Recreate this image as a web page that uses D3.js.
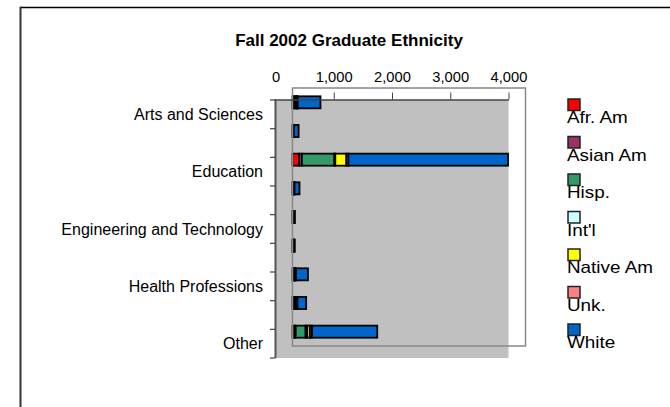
<!DOCTYPE html>
<html>
<head>
<meta charset="utf-8">
<script src="https://cdn.jsdelivr.net/npm/d3@7"></script>
<style>
  html, body { margin: 0; padding: 0; background: #fff; }
  text { font-family: "Liberation Sans", Arial, sans-serif; fill: #000; }
</style>
</head>
<body>
<svg id="chart" width="670" height="407"></svg>
<script>
// ---- data ----
const title = "Fall 2002 Graduate Ethnicity";
const categories = ["Arts and Sciences", "", "Education", "", "Engineering and Technology", "", "Health Professions", "", "Other"];
const seriesNames = ["Afr. Am", "Asian Am", "Hisp.", "Int'l", "Native Am", "Unk.", "White"];
const seriesColors = ["#FF0000", "#993366", "#339966", "#CCFFFF", "#FFFF00", "#FF8080", "#0066CC"];
const afrAm    = [20, 5, 110, 10, 5, 5, 15, 20, 35];
const asianAm  = [15, 5, 50, 5, 5, 3, 10, 10, 20];
const hisp     = [25, 5, 560, 10, 5, 5, 15, 20, 170];
const intl     = [15, 5, 15, 5, 10, 10, 10, 20, 30];
const nativeAm = [5, 2, 190, 2, 0, 0, 3, 5, 45];
const unk      = [10, 3, 35, 3, 2, 2, 7, 10, 35];
const white    = [390, 80, 2740, 85, 15, 15, 205, 150, 1120];
const xTicks   = [0, 1000, 2000, 3000, 4000];

const seriesValues = [afrAm, asianAm, hisp, intl, nativeAm, unk, white];
const rows = categories.map((c, i) => {
  const r = { idx: i };
  seriesNames.forEach((s, k) => r[s] = seriesValues[k][i]);
  return r;
});

// ---- layout ----
const svg = d3.select("#chart");
const plot = { left: 275.5, right: 508.5, top: 100, bottom: 358 };
const frameOffset = { dx: 17, dy: -12 };

const x = d3.scaleLinear().domain([0, 4000]).range([plot.left, plot.right]);
const y = d3.scaleBand().domain(d3.range(categories.length))
  .range([plot.top, plot.bottom]).paddingInner(0.58).paddingOuter(0.29);

// outer chart border
svg.append("line").attr("x1", 20).attr("x2", 680).attr("y1", 7.5).attr("y2", 7.5)
  .attr("stroke", "#000").attr("stroke-width", 1.5);
svg.append("line").attr("x1", 20.5).attr("x2", 20.5).attr("y1", 6.8).attr("y2", 420)
  .attr("stroke", "#333").attr("stroke-width", 2);

// title
svg.append("text").attr("x", 349).attr("y", 46).attr("text-anchor", "middle")
  .style("font-size", "17px").style("font-weight", "bold").text(title);

// plot area
svg.append("rect").attr("x", plot.left).attr("y", plot.top)
  .attr("width", plot.right - plot.left).attr("height", plot.bottom - plot.top)
  .attr("fill", "#C0C0C0");

// bars (drawn in the shifted frame coordinates)
const stack = d3.stack().keys(seriesNames)(rows);
const barG = svg.append("g").attr("transform", `translate(${frameOffset.dx},${frameOffset.dy})`);
barG.selectAll("g.series").data(stack).join("g")
  .attr("fill", (d, k) => seriesColors[k])
  .selectAll("rect").data(d => d).join("rect")
  .attr("x", d => x(d[0]))
  .attr("width", d => Math.max(0, x(d[1]) - x(d[0])))
  .attr("y", d => y(d.data.idx))
  .attr("height", y.bandwidth())
  .attr("stroke", "#000").attr("stroke-width", 1.8);

// frame outline
svg.append("rect")
  .attr("x", plot.left + frameOffset.dx).attr("y", plot.top + frameOffset.dy)
  .attr("width", plot.right - plot.left).attr("height", plot.bottom - plot.top)
  .attr("fill", "none").attr("stroke", "#888").attr("stroke-width", 1.5);

// top axis
const xAxis = d3.axisTop(x).tickValues(xTicks).tickFormat(d3.format(","))
  .tickSize(7).tickSizeOuter(0);
const gx = svg.append("g").attr("transform", `translate(0,${plot.top - 0.5})`).call(xAxis);
gx.select(".domain").attr("stroke", "#444").attr("stroke-width", 1.5);
gx.selectAll(".tick line").attr("stroke", "#444").attr("stroke-width", 1)
  .filter(d => d === 0).remove();
gx.selectAll(".tick text").attr("y", -18).attr("dy", null)
  .attr("transform", "scale(1.05,1)")
  .style("font-size", "14px").style("font-family", "'Liberation Sans', Arial, sans-serif").attr("fill", "#000");

// left axis
const boundaries = d3.range(categories.length + 1).map(i => plot.top + i * y.step());
svg.append("line").attr("x1", plot.left).attr("x2", plot.left)
  .attr("y1", plot.top - 1).attr("y2", plot.bottom)
  .attr("stroke", "#555").attr("stroke-width", 2);
svg.selectAll("line.ytick").data(boundaries).join("line").attr("class", "ytick")
  .attr("x1", plot.left - 5.5).attr("x2", plot.left)
  .attr("y1", d => d).attr("y2", d => d)
  .attr("stroke", "#444").attr("stroke-width", 1.2);
svg.selectAll("text.ylabel").data(categories.map((c, i) => ({ c, i })).filter(d => d.c))
  .join("text").attr("class", "ylabel")
  .attr("x", 263).attr("y", d => y(d.i) + y.bandwidth() / 2 + 5.7)
  .attr("text-anchor", "end").style("font-size", "16px").text(d => d.c);

// legend
const legend = svg.append("g").selectAll("g").data(seriesNames).join("g")
  .attr("transform", (d, k) => `translate(567,${99 + k * 37.5})`);
legend.append("rect").attr("x", 1).attr("y", 0).attr("width", 12).attr("height", 11.5)
  .attr("fill", (d, k) => seriesColors[k]).attr("stroke", "#222").attr("stroke-width", 1.5);
legend.append("text").attr("x", 0).attr("y", 24.5)
  .attr("transform", "scale(1.18,1)")
  .style("font-size", "16px").text(d => d);
</script>
</body>
</html>
